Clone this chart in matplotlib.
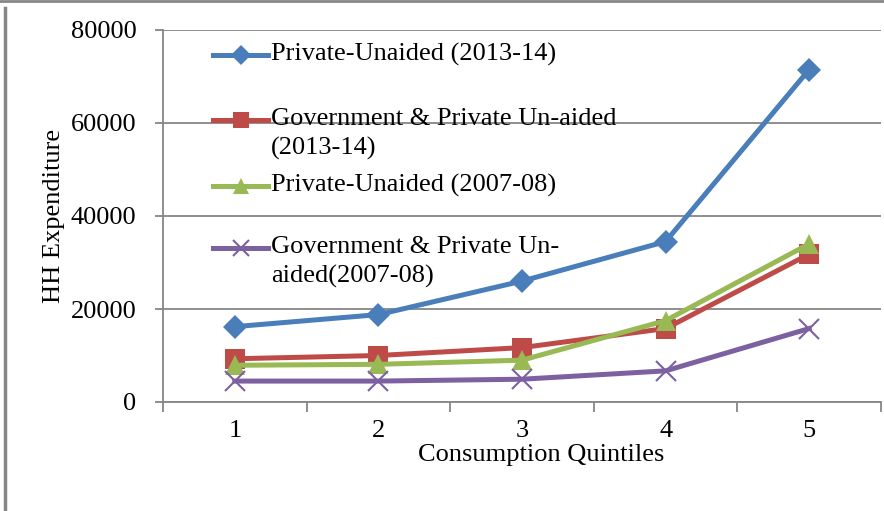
import matplotlib.pyplot as plt
from matplotlib.lines import Line2D

# household expenditure by consumption quintile
quintiles = [1, 2, 3, 4, 5]
pu_2013 = [16200, 18800, 26000, 34500, 71500]
gpu_2013 = [9300, 10000, 11700, 15800, 31800]
pu_2007 = [7900, 8100, 9000, 17500, 34000]
gpu_2007 = [4500, 4500, 4900, 6700, 15800]

labels = ["Private-Unaided (2013-14)",
          "Government & Private Un-aided\n(2013-14)",
          "Private-Unaided (2007-08)",
          "Government & Private Un-\naided(2007-08)"]
colors = ["#4A7EBB", "#BE4B48", "#98B954", "#7D60A0"]
markers = ["D", "s", "^", "x"]
sizes = [12.5, 14, 15, 15]
series = [pu_2013, gpu_2013, pu_2007, gpu_2007]

plt.rcParams['font.family'] = ['Liberation Serif', 'DejaVu Serif']
grid_col = "#868686"
fs = 19
lw = 3.6

fig = plt.figure(figsize=(8.84, 5.11), dpi=100)
ax = fig.add_axes([163 / 884, 1 - 402 / 511, 718 / 884, 372 / 511])

for vals, c, m, s in zip(series, colors, markers, sizes):
    ax.plot(quintiles, vals, color=c, lw=lw, marker=m, ms=s,
            mew=1.5 if m == "x" else 0, mec=c, mfc=c, zorder=3)

ax.set_xlim(0.5, 5.5)
ax.set_ylim(0, 80000)
ax.set_yticks(range(0, 80001, 20000))
ax.set_xticks(quintiles)
ax.set_xticks([0.5, 1.5, 2.5, 3.5, 4.5, 5.5], minor=True)
ax.tick_params(axis='x', which='major', length=0, pad=13, labelsize=fs)
ax.tick_params(axis='x', which='minor', length=7, width=1.3, color=grid_col, direction='out')
ax.tick_params(axis='y', length=6, width=1.3, color=grid_col, pad=13, labelsize=fs)
ax.grid(axis='y', color=grid_col, lw=1.3)
ax.set_axisbelow(True)
for side in ['top', 'right']:
    ax.spines[side].set_visible(False)
for side in ['left', 'bottom']:
    ax.spines[side].set_color(grid_col)
    ax.spines[side].set_linewidth(1.3)

ax.set_ylabel("HH Expenditure", fontsize=fs)
ax.yaxis.set_label_coords(-0.137, 0.5)
ax.set_xlabel("Consumption Quintiles", fontsize=fs)
ax.xaxis.set_label_coords((541 - 163) / 718, -0.112)

# legend drawn by hand so the handles sit on the first text line
leg_y = [55, 120, 186, 248]
for lab, c, m, s, py in zip(labels, colors, markers, sizes, leg_y):
    yy = (402 - py) / 372
    x0, x1 = (213 - 163) / 718, (268 - 163) / 718
    ax.add_line(Line2D([x0, x1], [yy, yy], transform=ax.transAxes, color=c, lw=lw, zorder=4))
    ax.add_line(Line2D([(x0 + x1) / 2], [yy], transform=ax.transAxes, color=c, marker=m,
                       ms=s * 0.8, mew=1.5 if m == "x" else 0, mec=c, mfc=c, zorder=4))
    ax.text((271 - 163) / 718, yy + 12 / 372, lab, transform=ax.transAxes, fontsize=fs,
            va='top', ha='left', linespacing=1.38)

# outer chart border
fig.add_artist(Line2D([4.5 / 884, 4.5 / 884], [0, 1 - 8 / 511], transform=fig.transFigure,
                      color=grid_col, lw=2.5))
fig.add_artist(Line2D([0, 1], [1 - 1 / 511, 1 - 1 / 511], transform=fig.transFigure,
                      color=grid_col, lw=2))

fig.savefig("out.png", dpi=100)
